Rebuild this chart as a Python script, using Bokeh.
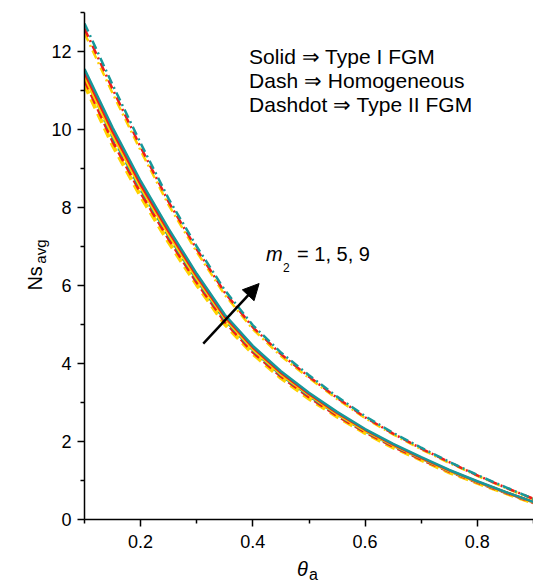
import math
from bokeh.plotting import figure
from bokeh.models import FixedTicker, Arrow, NormalHead, Label, Range1d
from bokeh.embed import file_html
from bokeh.resources import INLINE

# ---------------- data ----------------
theta = [0.10, 0.15, 0.20, 0.25, 0.30, 0.35, 0.40, 0.45, 0.50,
         0.55, 0.60, 0.65, 0.70, 0.75, 0.80, 0.85, 0.90]

m2_values = [1, 5, 9]

# Solid => Type I FGM
solid_m1 = [11.35, 9.85, 8.51, 7.30, 6.17, 5.15, 4.36, 3.72, 3.19, 2.70, 2.27, 1.90, 1.57, 1.24, 0.96, 0.70, 0.44]
solid_m5 = [11.45, 9.95, 8.59, 7.38, 6.24, 5.20, 4.41, 3.76, 3.22, 2.73, 2.30, 1.92, 1.58, 1.26, 0.97, 0.70, 0.45]
solid_m9 = [11.55, 10.05, 8.68, 7.45, 6.30, 5.25, 4.45, 3.80, 3.25, 2.76, 2.32, 1.94, 1.60, 1.27, 0.98, 0.71, 0.45]

# Dash => Homogeneous
dash_m1 = [11.15, 9.60, 8.29, 7.11, 6.02, 5.01, 4.25, 3.63, 3.10, 2.64, 2.22, 1.85, 1.53, 1.21, 0.94, 0.68, 0.43]
dash_m5 = [11.27, 9.70, 8.38, 7.19, 6.08, 5.07, 4.29, 3.67, 3.14, 2.66, 2.24, 1.87, 1.54, 1.23, 0.95, 0.69, 0.43]
dash_m9 = [11.38, 9.80, 8.46, 7.26, 6.14, 5.12, 4.34, 3.70, 3.17, 2.69, 2.26, 1.89, 1.56, 1.24, 0.96, 0.69, 0.44]

# Dashdot => Type II FGM
dashdot_m1 = [12.47, 10.93, 9.46, 8.06, 6.86, 5.76, 4.88, 4.19, 3.63, 3.09, 2.60, 2.18, 1.80, 1.45, 1.12, 0.81, 0.52]
dashdot_m5 = [12.59, 11.04, 9.55, 8.14, 6.93, 5.82, 4.93, 4.24, 3.66, 3.12, 2.62, 2.20, 1.82, 1.47, 1.13, 0.82, 0.53]
dashdot_m9 = [12.72, 11.15, 9.65, 8.22, 7.00, 5.88, 4.98, 4.28, 3.70, 3.15, 2.65, 2.22, 1.84, 1.48, 1.14, 0.83, 0.53]

x_major = [0.2, 0.4, 0.6, 0.8]
x_minor = [0.1, 0.3, 0.5, 0.7, 0.9]
y_major = [0, 2, 4, 6, 8, 10, 12]
y_minor = [1, 3, 5, 7, 9, 11, 13]

legend_lines = ["Solid \u21d2 Type I FGM", "Dash \u21d2 Homogeneous", "Dashdot \u21d2 Type II FGM"]

# ---------------- styles ----------------
YELLOW = "#ffd200"
RED = "#ee1c1c"
TEAL = "#17989a"
FONT = "Liberation Sans"

p = figure(width=533, height=583, output_backend="svg", toolbar_location=None,
           x_range=Range1d(0.1, 0.9), y_range=Range1d(0, 13))
p.min_border_left = 83
p.min_border_right = 0
p.min_border_top = 12
p.min_border_bottom = 64
p.outline_line_color = None
p.xgrid.visible = False
p.ygrid.visible = False
p.background_fill_color = "white"
p.border_fill_color = "white"

DASH = "10 6"
DASHDOT = "9 4 2 4"
series = [
    (dash_m1, YELLOW, DASH, 4.0), (dash_m5, RED, DASH, 3.0), (dash_m9, TEAL, DASH, 2.5),
    (solid_m1, YELLOW, "solid", 2.5), (solid_m5, RED, "solid", 2.5), (solid_m9, TEAL, "solid", 2.5),
    (dashdot_m1, YELLOW, DASHDOT, 2.5), (dashdot_m5, RED, DASHDOT, 2.5), (dashdot_m9, TEAL, DASHDOT, 2.5),
]
for ys, col, dash, w in series:
    p.line(theta, ys, line_color=col, line_dash=dash, line_width=w)

for ax in (p.xaxis[0], p.yaxis[0]):
    ax.axis_line_color = "black"
    ax.axis_line_width = 1.5
    ax.major_tick_line_color = "black"
    ax.major_tick_line_width = 1.5
    ax.minor_tick_line_color = "black"
    ax.minor_tick_line_width = 1.5
    ax.major_tick_out = 7
    ax.major_tick_in = 0
    ax.minor_tick_out = 4
    ax.minor_tick_in = 0
    ax.major_label_text_font = FONT
    ax.major_label_text_font_size = "18px"
    ax.major_label_text_color = "black"
p.yaxis[0].major_label_standoff = 6
p.xaxis[0].major_label_standoff = 8

p.xaxis[0].ticker = FixedTicker(ticks=x_major, minor_ticks=x_minor)
p.yaxis[0].ticker = FixedTicker(ticks=y_major, minor_ticks=y_minor)
p.xaxis[0].major_label_overrides = {v: f"{v:.1f}" for v in x_major}
p.yaxis[0].major_label_overrides = {v: str(v) for v in y_major}


def lab(x, y, text, size, style="normal", angle=0.0, place="center"):
    lb = Label(x=x, y=y, text=text, text_font=FONT, text_font_size=size,
               text_font_style=style, angle=angle, text_align="left",
               text_baseline="middle", text_color="black")
    if place == "center":
        p.add_layout(lb)
    else:
        p.add_layout(lb, place)


# axis titles (with subscripts), placed in side panels so they are not clipped
lab(0.4787, -1.28, "\u03b8", "20px", "italic", place="below")
lab(0.5000, -1.41, "a", "16px", place="left")
lab(0.0111, 5.87, "Ns", "20px", angle=math.pi / 2, place="left")
lab(0.0218, 6.56, "avg", "15px", angle=math.pi / 2, place="left")

# legend-like text
for i, t in enumerate(legend_lines):
    lab(0.3933, 11.87 - i * 0.615, t, "21px")

# m2 annotation
lab(0.4236, 6.82, "m", "20px", "italic")
lab(0.4538, 6.47, "2", "12px")
lab(0.4787, 6.82, "= 1, 5, 9", "20px")

p.add_layout(Arrow(end=NormalHead(size=16, fill_color="black", line_color="black"),
                   x_start=0.3116, y_start=4.51, x_end=0.4111, y_end=6.05,
                   line_width=2.5, line_color="black"))

open("out.html", "w").write(file_html(p, INLINE))
